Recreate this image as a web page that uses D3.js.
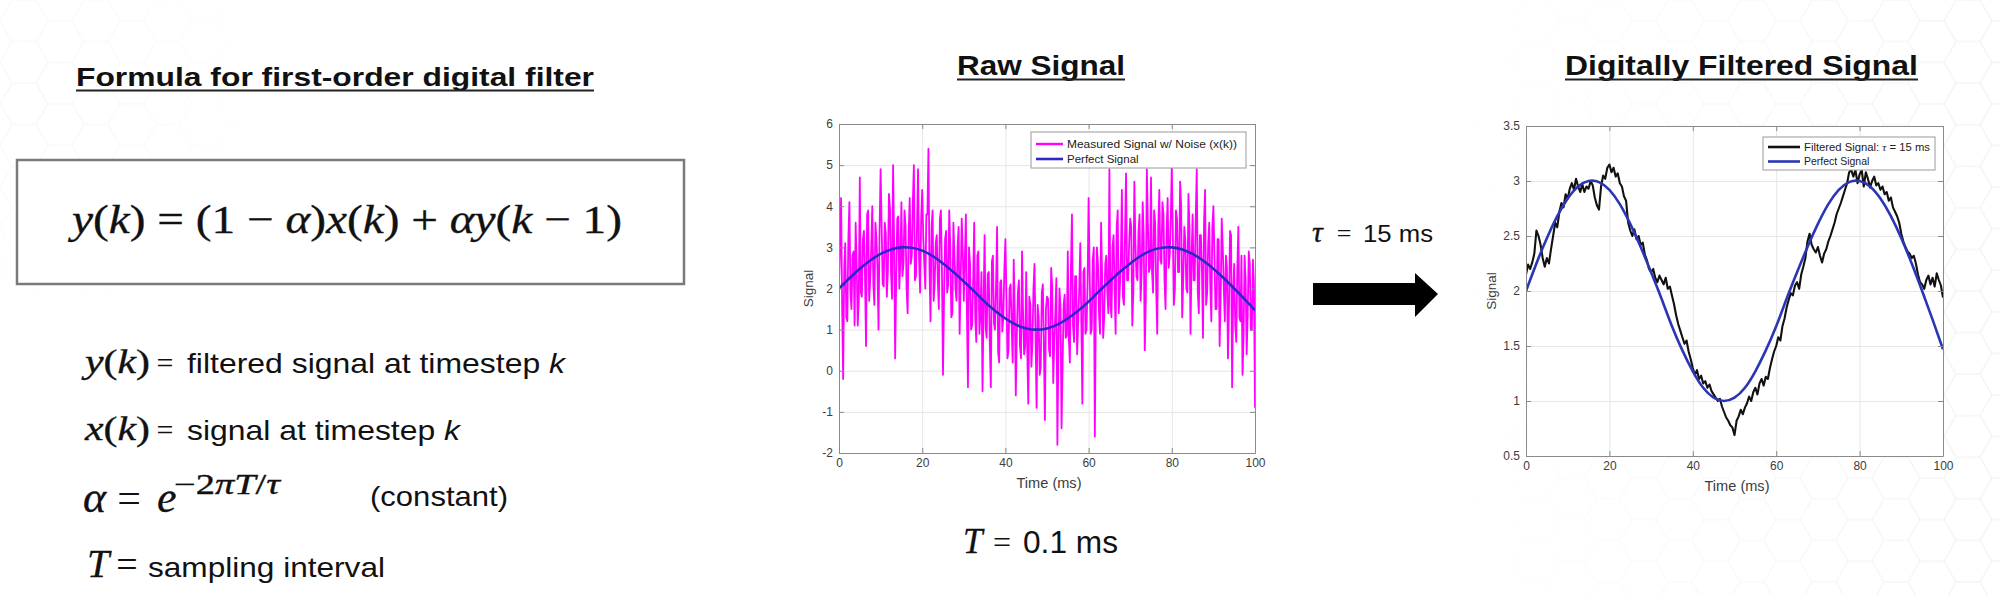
<!DOCTYPE html>
<html>
<head>
<meta charset="utf-8">
<script src="https://cdn.jsdelivr.net/npm/d3@7"></script>
<style>
  html, body { margin: 0; padding: 0; background: #fff; }
  svg { display: block; }
</style>
</head>
<body>
<svg id="slide" width="2000" height="595"></svg>
<script>
// ---- values ----
const timeTicks = [0, 20, 40, 60, 80, 100];
const rawTicksY = [-2, -1, 0, 1, 2, 3, 4, 5, 6];
const filtTicksY = [0.5, 1, 1.5, 2, 2.5, 3, 3.5];

// perfect signal, read every 2.5 ms
const perfectStep = 2.5;
const perfectSignal = [2.00, 2.25, 2.48, 2.68, 2.84, 2.95, 3.00, 2.99, 2.92, 2.79,
  2.61, 2.40, 2.17, 1.93, 1.68, 1.46, 1.27, 1.12, 1.03, 1.00,
  1.03, 1.12, 1.27, 1.46, 1.68, 1.93, 2.17, 2.40, 2.61, 2.79,
  2.92, 2.99, 3.00, 2.95, 2.84, 2.68, 2.48, 2.25, 2.00, 1.74, 1.47];

// measured (noisy) signal, read every 0.25 ms
const rawStep = 0.25;
const measuredSignal = [
  2.1, 3.0, 4.2, 1.6, -0.2, 2.5, 3.1, 1.3, 1.2, 3.2, 4.1, 1.9, 1.5, 2.8, 2.9, 1.1, 3.6, 2.6, 1.1, 1.7,
  4.7, 1.9, 1.8, 3.2, 3.4, 2.3, 0.6, 3.8, 3.9, 1.7, 2.2, 3.0, 4.0, 2.1, 1.6, 3.6, 3.2, 2.5, 1.0, 3.4,
  4.9, 3.55, 2.1, 2.05, 3.6, 3.35, 1.8, 2.45, 4.3, 3.95, 2.4, 1.75, 5.0, 3.15, 0.3, 2.25, 3.7, 3.75, 2.0, 2.65,
  4.1, 2.3, 2.6, 3.9, 3.5, 2.0, 1.4, 3.4, 4.2, 2.6, 2.8, 4.1, 5.0, 2.2, 2.3, 3.5, 4.9, 2.7, 1.9, 3.7,
  4.4, 3.3, 2.6, 2.0, 3.8, 3.8, 5.4, 2.5, 1.2, 3.5, 3.9, 1.7, 2.1, 3.1, 3.3, 2.2, 1.5, 3.7, 3.9, 2.4,
  -0.1, 1.8, 3.2, 3.4, 1.9, 2.1, 3.9, 3.0, 1.3, 1.4, 3.6, 2.8, 2.0, 1.7, 3.0, 3.5, 0.9, 2.2, 3.7, 2.9,
  1.7, 2.7, 3.8, 1.4, -0.4, 3.0, 2.6, 1.0, 1.1, 2.2, 3.6, 1.3, 0.7, 2.8, 2.9, 0.9, 1.4, 2.4, -0.5, 1.6,
  3.3, 1.05, 0.8, 2.35, 2.4, 0.65, -0.4, 2.65, 2.8, 1.15, 1.0, 2.05, 3.5, 0.45, 0.2, 2.15, 2.2, 0.95, 1.3, 2.45,
  3.2, 1.8, 0.3, 0.5, 2.0, 2.1, 1.1, 0.2, 2.7, 1.5, -0.6, 0.9, 1.9, 2.2, 0.6, 0.3, 2.9, 1.4, 0.4, 0.6,
  2.4, 0.5, -0.8, 1.8, 1.6, 0.1, 0.7, 2.0, 2.6, 0.8, -0.9, 1.6, 1.3, -0.1, 0.1, 1.9, 2.1, 0.6, -1.2, 1.5,
  1.8, 1.75, 0.5, 0.35, 2.5, 2.05, -0.3, 0.75, 1.4, 2.25, -1.8, 0.55, 2.0, 1.55, -1.4, 0.15, 1.6, 1.85, 0.8, 0.85,
  2.9, 0.8, 0.2, 2.5, 3.8, 1.1, 0.7, 2.3, 2.3, 0.4, 1.2, 2.0, 3.1, 1.2, -0.8, 2.4, 2.5, 0.9, 1.0, 2.1,
  4.2, 2.4, 0.9, 1.0, 2.7, 3.0, -1.6, 1.6, 3.0, 2.6, 1.4, 0.9, 3.6, 2.3, 0.8, 1.3, 2.6, 2.8, 1.9, 1.4,
  4.9, 1.6, 1.3, 3.0, 3.3, 2.0, 0.9, 3.5, 3.9, 1.4, 2.0, 2.7, 4.4, 1.8, 1.6, 3.3, 4.8, 2.2, 2.2, 3.1,
  3.7, 3.5, 1.1, 1.9, 4.6, 3.1, 2.3, 2.2, 3.4, 3.8, 1.7, 2.4, 4.1, 3.3, 0.5, 1.7, 4.9, 3.6, 2.4, 2.5,
  4.7, 2.4, 1.9, 3.9, 3.6, 2.0, 0.9, 3.5, 4.4, 2.7, 2.6, 4.1, 3.8, 2.2, 1.5, 3.4, 4.2, 2.5, 2.8, 3.7,
  5.0, 3.3, 1.6, 2.0, 3.9, 3.7, 2.4, 2.4, 4.6, 4.0, 1.3, 2.2, 3.5, 3.2, 2.0, 1.9, 4.3, 3.5, 0.9, 2.7,
  3.8, 2.2, 2.2, 3.7, 4.9, 1.9, 1.4, 3.3, 3.3, 2.4, 0.8, 3.6, 4.4, 1.6, 1.9, 3.1, 3.6, 2.1, 1.2, 3.5,
  4.0, 2.8, 1.5, 1.5, 3.2, 3.2, 0.6, 1.8, 3.7, 3.0, 2.0, 1.2, 2.8, 2.5, 0.3, 1.6, 3.4, 3.3, -0.4, 1.9,
  2.6, 1.1, 0.7, 2.5, 3.5, 1.3, 1.2, 2.8, -0.1, 0.8, 2.8, 2.2, 0.4, 1.4, 2.9, 2.6, 1.0, 1.0, 2.7, 2.1,
  -0.9];

// filtered signal, read every 0.5 ms
const filtStep = 0.5;
const filteredSignal = [
  2.15, 2.24, 2.20, 2.26, 2.34, 2.55, 2.50, 2.42, 2.30, 2.22,
  2.30, 2.25, 2.38, 2.50, 2.62, 2.58, 2.72, 2.80, 2.76, 2.88,
  2.84, 2.93, 2.98, 2.92, 3.02, 2.95, 2.90, 2.97, 2.90, 2.95,
  2.93, 3.00, 2.96, 2.85, 2.78, 2.74, 2.95, 3.05, 3.02, 3.12,
  3.15, 3.08, 3.12, 3.04, 3.07, 2.98, 2.95, 2.86, 2.82, 2.62,
  2.55, 2.50, 2.56, 2.47, 2.50, 2.42, 2.44, 2.33, 2.28, 2.20,
  2.17, 2.20, 2.12, 2.08, 2.14, 2.10, 2.06, 2.12, 2.02, 2.04,
  1.96, 1.88, 1.78, 1.70, 1.64, 1.58, 1.52, 1.55, 1.45, 1.38,
  1.30, 1.24, 1.28, 1.20, 1.23, 1.16, 1.18, 1.12, 1.15, 1.09,
  1.06, 1.03, 1.00, 1.02, 0.95, 0.90, 0.85, 0.82, 0.78, 0.76,
  0.69, 0.82, 0.86, 0.92, 0.88, 0.94, 0.98, 1.04, 1.00, 1.08,
  1.12, 1.06, 1.16, 1.20, 1.14, 1.22, 1.20, 1.30, 1.38, 1.45,
  1.50, 1.58, 1.55, 1.68, 1.75, 1.85, 1.92, 1.98, 1.96, 2.05,
  2.08, 2.02, 2.15, 2.22, 2.30, 2.45, 2.52, 2.42, 2.38, 2.35,
  2.40, 2.32, 2.26, 2.34, 2.38, 2.45, 2.50, 2.56, 2.62, 2.70,
  2.75, 2.80, 2.86, 2.92, 2.98, 3.08, 3.10, 3.04, 3.10, 2.98,
  3.06, 3.10, 2.95, 3.08, 3.02, 2.94, 3.00, 3.04, 2.96, 2.98,
  2.92, 2.95, 2.88, 2.90, 2.82, 2.85, 2.76, 2.72, 2.68, 2.62,
  2.52, 2.45, 2.40, 2.36, 2.34, 2.30, 2.32, 2.25, 2.15, 2.08,
  2.06, 2.02, 2.10, 2.14, 2.06, 2.12, 2.04, 2.16, 2.10, 2.05,
  1.94];

const rawLegend = ['Measured Signal w/ Noise (x(k))', 'Perfect Signal'];
const filtLegend = ['Filtered Signal: ', 'Perfect Signal'];

// ---- setup ----
const svg = d3.select('#slide');
const serif = '"Liberation Serif", "DejaVu Serif", serif';
const sans = '"Liberation Sans", Arial, Helvetica, sans-serif';

const defs = svg.append('defs');

// faint honeycomb behind the slide
const s = 24, h = Math.sqrt(3) * s;
defs.append('pattern')
  .attr('id', 'hex').attr('patternUnits', 'userSpaceOnUse')
  .attr('width', 3 * s).attr('height', h)
  .append('path')
  .attr('d', `M0,${h/2} L${s/2},0 L${3*s/2},0 L${2*s},${h/2} L${3*s/2},${h} L${s/2},${h} Z M${2*s},${h/2} L${3*s},${h/2}`)
  .attr('fill', 'none').attr('stroke', '#f2f2f2').attr('stroke-width', 1.5);

const rg = defs.append('radialGradient').attr('id', 'fadeTL')
  .attr('gradientUnits', 'userSpaceOnUse').attr('cx', 40).attr('cy', 90).attr('r', 230);
rg.append('stop').attr('offset', 0).attr('stop-color', '#fff').attr('stop-opacity', 0.6);
rg.append('stop').attr('offset', 1).attr('stop-color', '#fff').attr('stop-opacity', 0);
const lg = defs.append('linearGradient').attr('id', 'fadeR')
  .attr('gradientUnits', 'userSpaceOnUse').attr('x1', 1450).attr('x2', 2000).attr('y1', 0).attr('y2', 0);
lg.append('stop').attr('offset', 0).attr('stop-color', '#fff').attr('stop-opacity', 0);
lg.append('stop').attr('offset', 1).attr('stop-color', '#fff').attr('stop-opacity', 0.8);
const mask = defs.append('mask').attr('id', 'hexMask');
mask.append('rect').attr('width', 2000).attr('height', 595).attr('fill', 'url(#fadeTL)');
mask.append('rect').attr('width', 2000).attr('height', 595).attr('fill', 'url(#fadeR)');

svg.append('rect').attr('width', 2000).attr('height', 595).attr('fill', '#fff');
svg.append('rect').attr('width', 2000).attr('height', 595)
  .attr('fill', 'url(#hex)').attr('mask', 'url(#hexMask)');

// ---- helpers ----
function underlinedTitle(text, x, y, size, width) {
  const g = svg.append('g');
  g.append('text').attr('x', x).attr('y', y)
    .attr('font-family', sans).attr('font-weight', 'bold').attr('font-size', size)
    .attr('fill', '#111')
    .attr('textLength', width).attr('lengthAdjust', 'spacingAndGlyphs')
    .text(text);
  g.append('line').attr('x1', x).attr('x2', x + width)
    .attr('y1', y + 4.5).attr('y2', y + 4.5)
    .attr('stroke', '#222').attr('stroke-width', 2.2);
}

function label(txt, x, y, opts) {
  const t = svg.append('text').attr('x', x).attr('y', y)
    .attr('font-family', opts.font || sans)
    .attr('font-size', opts.size)
    .attr('font-style', opts.italic ? 'italic' : null)
    .attr('text-anchor', opts.anchor || 'start')
    .attr('fill', opts.color || '#111')
    .text(txt);
  if (opts.len) t.attr('textLength', opts.len).attr('lengthAdjust', 'spacingAndGlyphs');
  return t;
}

// serif math text, slightly thickened to look like Cambria Math
function mathVar(parts, x, y, size, len) {
  const t = svg.append('text').attr('x', x).attr('y', y)
    .attr('font-family', serif).attr('font-size', size).attr('fill', '#111')
    .attr('stroke', '#111').attr('stroke-width', 0.35);
  if (len) t.attr('textLength', len).attr('lengthAdjust', 'spacingAndGlyphs');
  parts.forEach(([p, it]) => t.append('tspan').attr('font-style', it ? 'italic' : 'normal').text(p));
  return t;
}

// ---- left panel: formula ----
underlinedTitle('Formula for first-order digital filter', 76, 86, 26, 518);

svg.append('rect').attr('x', 17).attr('y', 160).attr('width', 667).attr('height', 124)
  .attr('fill', '#fff').attr('stroke', '#7a7a7a').attr('stroke-width', 2.5);

mathVar([['y', 1], ['(', 0], ['k', 1], [') = (1 − ', 0], ['α', 1], [')', 0], ['x', 1], ['(', 0], ['k', 1],
  [') + ', 0], ['αy', 1], ['(', 0], ['k', 1], [' − 1)', 0]], 72, 233, 41, 550);

// definitions
mathVar([['y', 1], ['(', 0], ['k', 1], [')', 0]], 85, 373, 33, 65);
label('=', 165, 373, { size: 30, font: serif, anchor: 'middle' });
const d1 = label('filtered signal at timestep ', 187, 373, { size: 28, len: 378 });
d1.append('tspan').attr('font-style', 'italic').text('k');

mathVar([['x', 1], ['(', 0], ['k', 1], [')', 0]], 85, 440, 33, 65);
label('=', 165, 440, { size: 30, font: serif, anchor: 'middle' });
const d2 = label('signal at timestep ', 187, 440, { size: 28, len: 273 });
d2.append('tspan').attr('font-style', 'italic').text('k');

mathVar([['α', 1]], 83, 512, 44);
label('=', 129, 512, { size: 42, font: serif, anchor: 'middle' });
mathVar([['e', 1]], 157, 512, 44);
mathVar([['−2', 0], ['πT', 1], ['/', 0], ['τ', 1]], 174, 494, 29, 106);
label('(constant)', 370, 506, { size: 28, len: 138 });

mathVar([['T', 1]], 87, 577, 40);
label('=', 127, 577, { size: 38, font: serif, anchor: 'middle' });
label('sampling interval', 148, 577, { size: 28, len: 237 });

// ---- middle annotations ----
underlinedTitle('Raw Signal', 957, 75, 28, 168);
underlinedTitle('Digitally Filtered Signal', 1565, 75, 28, 353);

mathVar([['T', 1]], 963, 553, 35);
label('=', 1002, 553, { size: 32, font: serif, anchor: 'middle' });
label('0.1 ms', 1023, 553, { size: 31, len: 95 });

mathVar([['τ', 1]], 1312, 242, 30);
label('=', 1344, 242, { size: 26, font: serif, anchor: 'middle' });
label('15 ms', 1363, 242, { size: 24, len: 70 });

// block arrow
svg.append('path')
  .attr('d', d3.line()([[1313, 283], [1415, 283], [1415, 273], [1438, 294], [1415, 317], [1415, 305], [1313, 305]]) + 'Z')
  .attr('fill', '#000');

// ---- plots ----
function drawPlot(cfg) {
  const x = d3.scaleLinear().domain([0, 100]).range([cfg.left, cfg.right]);
  const y = d3.scaleLinear().domain(cfg.yDomain).range([cfg.bottom, cfg.top]);
  const w = cfg.right - cfg.left, ht = cfg.bottom - cfg.top;
  const g = svg.append('g');

  g.append('rect').attr('x', cfg.left).attr('y', cfg.top).attr('width', w).attr('height', ht).attr('fill', '#fff');

  // grid
  g.append('g').attr('transform', `translate(0,${cfg.bottom})`)
    .call(d3.axisBottom(x).tickValues(timeTicks).tickSize(-ht).tickFormat(''))
    .call(a => a.select('.domain').remove())
    .selectAll('line').attr('stroke', '#e6e6e6').attr('stroke-width', 1);
  g.append('g').attr('transform', `translate(${cfg.left},0)`)
    .call(d3.axisLeft(y).tickValues(cfg.yTicks).tickSize(-w).tickFormat(''))
    .call(a => a.select('.domain').remove())
    .selectAll('line').attr('stroke', '#e6e6e6').attr('stroke-width', 1);

  const clipId = 'clip' + cfg.id;
  defs.append('clipPath').attr('id', clipId).append('rect')
    .attr('x', cfg.left).attr('y', cfg.top).attr('width', w).attr('height', ht);

  const lines = g.append('g').attr('clip-path', `url(#${clipId})`);
  lines.append('path').datum(cfg.noisy)
    .attr('fill', 'none').attr('stroke', cfg.noisyColor).attr('stroke-width', cfg.noisyWidth)
    .attr('stroke-linejoin', 'round')
    .attr('d', d3.line().x((d, i) => x(i * cfg.step)).y(d => y(d)));
  lines.append('path').datum(perfectSignal)
    .attr('fill', 'none').attr('stroke', cfg.perfectColor).attr('stroke-width', 2.6)
    .attr('d', d3.line().curve(d3.curveNatural).x((d, i) => x(i * perfectStep)).y(d => y(d)));

  // box + inner ticks
  const axisCol = '#8a8a8a', labCol = '#3c3c3c';
  const styleAxis = a => {
    a.select('.domain').attr('stroke', axisCol);
    a.selectAll('.tick line').attr('stroke', axisCol);
    a.selectAll('.tick text').attr('fill', labCol).attr('font-family', sans).attr('font-size', 12);
  };
  g.append('g').attr('transform', `translate(0,${cfg.bottom})`)
    .call(d3.axisBottom(x).tickValues(timeTicks).tickSizeInner(-5).tickSizeOuter(0).tickPadding(5))
    .call(styleAxis);
  g.append('g').attr('transform', `translate(0,${cfg.top})`)
    .call(d3.axisTop(x).tickValues(timeTicks).tickSizeInner(-5).tickSizeOuter(0).tickFormat(''))
    .call(styleAxis);
  g.append('g').attr('transform', `translate(${cfg.left},0)`)
    .call(d3.axisLeft(y).tickValues(cfg.yTicks).tickSizeInner(-5).tickSizeOuter(0).tickPadding(cfg.yPad).tickFormat(d => String(d)))
    .call(styleAxis);
  g.append('g').attr('transform', `translate(${cfg.right},0)`)
    .call(d3.axisRight(y).tickValues(cfg.yTicks).tickSizeInner(-5).tickSizeOuter(0).tickFormat(''))
    .call(styleAxis);

  // axis titles
  g.append('text').attr('transform', `translate(${cfg.yLabelX},${(cfg.top + cfg.bottom) / 2}) rotate(-90)`)
    .attr('text-anchor', 'middle').attr('font-family', sans).attr('font-size', 13.5).attr('fill', labCol)
    .text('Signal');
  g.append('text').attr('x', cfg.xLabelX).attr('y', cfg.bottom + 35)
    .attr('text-anchor', 'middle').attr('font-family', sans).attr('font-size', 14.5).attr('fill', labCol)
    .attr('textLength', 65).attr('lengthAdjust', 'spacingAndGlyphs')
    .text('Time (ms)');

  // legend
  const L = cfg.legend;
  const lgG = g.append('g');
  lgG.append('rect').attr('x', L.x).attr('y', L.y).attr('width', L.w).attr('height', L.h)
    .attr('fill', '#fff').attr('stroke', '#9a9a9a').attr('stroke-width', 1);
  const rows = [[cfg.noisyColor, cfg.legendWidth], [cfg.perfectColor, 2.6]];
  cfg.legendText.forEach((txt, i) => {
    const ry = L.y + L.row0 + i * L.rowGap;
    lgG.append('line').attr('x1', L.x + 5).attr('x2', L.x + 5 + L.sample)
      .attr('y1', ry).attr('y2', ry).attr('stroke', rows[i][0]).attr('stroke-width', rows[i][1]);
    const t = lgG.append('text').attr('x', L.x + 9 + L.sample).attr('y', ry + L.size * 0.36)
      .attr('font-family', sans).attr('font-size', L.size).attr('fill', '#222')
      .text(txt);
    if (cfg.id === 'f' && i === 0) {
      t.append('tspan').attr('font-family', serif).attr('font-style', 'italic').text('τ');
      t.append('tspan').text(' = 15 ms');
    }
    if (L.lens[i]) t.attr('textLength', L.lens[i]).attr('lengthAdjust', 'spacingAndGlyphs');
  });
}

drawPlot({
  id: 'r', left: 839, right: 1255, top: 124, bottom: 453,
  yDomain: [-2, 6], yTicks: rawTicksY, yPad: 6,
  noisy: measuredSignal, step: rawStep, noisyColor: '#ff00ff', noisyWidth: 1.8, legendWidth: 2.4,
  perfectColor: '#2e26c9',
  yLabelX: 813, xLabelX: 1049,
  legend: { x: 1031, y: 132, w: 215, h: 36, row0: 12, rowGap: 15, sample: 27, size: 11.5, lens: [170, 0] },
  legendText: rawLegend
});

drawPlot({
  id: 'f', left: 1526, right: 1943, top: 126, bottom: 456,
  yDomain: [0.5, 3.5], yTicks: filtTicksY, yPad: 6,
  noisy: filteredSignal, step: filtStep, noisyColor: '#111', noisyWidth: 2.1, legendWidth: 2.6,
  perfectColor: '#2a36b4',
  yLabelX: 1496, xLabelX: 1737,
  legend: { x: 1763, y: 137, w: 172, h: 33, row0: 10, rowGap: 14.5, sample: 32, size: 10.5, lens: [126, 0] },
  legendText: filtLegend
});
</script>
</body>
</html>
